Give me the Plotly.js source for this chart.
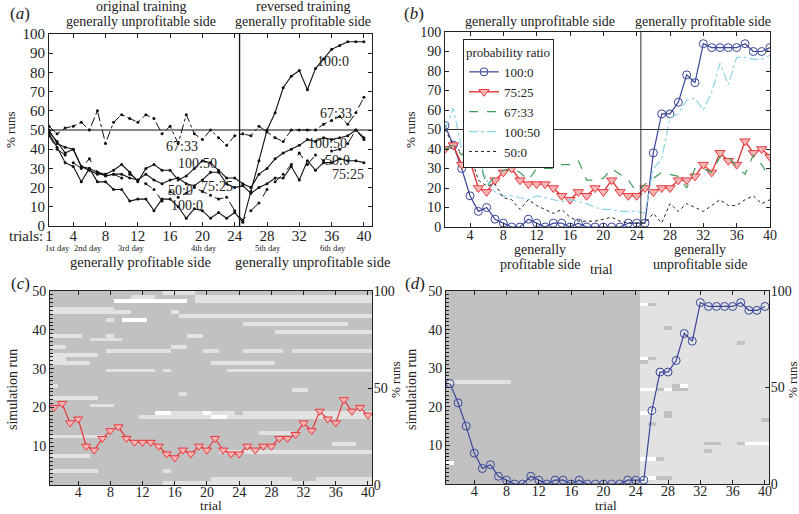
<!DOCTYPE html>
<html><head><meta charset="utf-8">
<script src="https://cdn.plot.ly/plotly-3.0.1.min.js"></script>
<style>html,body{margin:0;padding:0;background:#fff}#chart{width:799px;height:514px}</style>
</head><body><div id="chart"></div>
<script>
// ---------- DATA ----------
const trials = [1,2,3,4,5,6,7,8,9,10,11,12,13,14,15,16,17,18,19,20,21,22,23,24,25,26,27,28,29,30,31,32,33,34,35,36,37,38,39,40];
const ratioNames = ["100:0","75:25","67:33","100:50","50:0"];

// panel (a): original experiment (% runs on generally unprofitable side)
const a100_0  = [48,41,33,31,23,30,23,23,19,19,13,14,14,8,14,14,10,4,9,8,4,7,4,7,2,18,34,50,59,72,78,81,71,82,87,92,94,96,96,96];
const a67_33  = [52,48,51,52,54,50,60,43,54,58,56,54,58,56,48,52,43,58,48,45,50,46,42,47,48,47,52,49,46,44,50,50,50,50,53,55,57,53,59,67];
const a100_50 = [50,43,41,40,31,29,27,27,29,32,28,23,30,32,29,29,24,26,30,34,33,29,25,25,22,20,27,30,35,38,40,42,45,44,46,45,46,47,50,46];
const a75_25  = [49,44,38,40,31,30,28,26,27,27,25,24,27,24,22,24,25,22,21,24,28,28,22,20,21,17,20,22,25,25,31,24,34,29,33,33,35,34,34,33];
const a50_0   = [47,40,37,33,30,35,28,27,27,25,27,24,22,19,13,18,15,17,20,18,16,14,15,8,3,8,12,19,23,27,32,38,32,37,34,39,40,43,50,45];

// panel (b): simulation (% runs)
const b100_0  = [52,42,30,16,8,10,4,2,0,0,4,2,0,2,2,0,2,0,0,0,0,0,2,2,2,38,58,58,64,78,74,94,92,92,92,92,94,90,90,92];
const b75_25  = [40,42,32,34,20,18,24,28,30,24,22,22,22,20,16,14,18,16,20,18,24,18,16,16,20,18,20,20,24,24,26,32,28,38,34,32,44,38,40,36];
const b67_33  = [40,42,37,38,36,21,26,29,30,28,24,30,30,30,32,32,34,24,24,25,30,27,24,18,22,25,28,27,26,20,30,30,28,36,36,31,27,37,32,25];
const b100_50 = [50,61,40,38,36,24,18,16,16,15,14,16,15,14,13,14,13,12,10,9,9,8,8,8,7,30,35,56,58,65,66,60,69,84,73,87,87,86,86,88];
const b50_0   = [50,42,38,38,24,21,22,15,14,9,14,11,9,7,9,5,3,3,3,4,5,3,2,2,2,7,2,12,8,12,10,8,11,14,11,11,14,16,12,14];

// panels (c),(d): per-run choice maps, segments [run, firstTrial, lastTrial, state]
// state 0 = dark grey, 1 = light grey, 2 = white
const runsCBase = 0;
const runsCSeg = [
 [50,15,18,1],[49,11,13,1],[49,19,40,1],[48,9,17,2],[48,19,40,1],[46,1,8,1],[45,1,10,1],[45,16,16,1],
 [44,17,40,1],[43,8,8,1],[43,10,12,2],[42,25,37,1],[40,29,40,1],[39,1,4,1],[39,8,8,1],[39,18,19,1],
 [38,6,9,1],[36,1,2,1],[36,16,17,1],[35,8,15,1],[35,20,21,1],[35,25,29,1],[35,31,40,1],[34,1,6,1],
 [33,1,2,1],[32,1,5,1],[32,21,28,1],[30,8,13,1],[30,15,15,1],[30,23,40,1],[26,1,1,1],[25,31,32,1],
 [24,17,17,1],[23,1,6,1],[21,6,8,1],[19,14,15,2],[19,16,19,1],[19,20,20,2],[19,21,23,1],[19,25,40,1],
 [18,12,20,1],[18,21,22,2],[18,23,40,1],[14,27,30,1],[13,1,7,1],[11,36,38,1],[9,22,40,1],[8,1,5,1],
 [4,1,6,1],[4,15,15,1],[2,21,30,1],[2,34,40,1],[1,15,40,1]
];
const runsDSeg = [
 [1,25,40,1],[2,25,40,1],[3,25,40,1],[4,25,40,1],[5,25,40,1],[6,25,40,1],[7,25,40,1],[8,25,40,1],[9,25,40,1],[10,25,40,1],
 [11,25,40,1],[12,25,40,1],[13,25,40,1],[14,25,40,1],[15,25,40,1],[16,25,40,1],[17,25,40,1],[18,25,40,1],[19,25,40,1],[20,25,40,1],
 [21,25,40,1],[22,25,40,1],[23,25,40,1],[24,25,40,1],[25,25,40,1],[26,25,40,1],[27,25,40,1],[28,25,40,1],[29,25,40,1],[30,25,40,1],
 [31,25,40,1],[32,25,40,1],[33,25,40,1],[34,25,40,1],[35,25,40,1],[36,25,40,1],[37,25,40,1],[38,25,40,1],[39,25,40,1],[40,25,40,1],
 [41,25,40,1],[42,25,40,1],[43,25,40,1],[44,25,40,1],[45,25,40,1],[46,25,40,1],[47,25,40,1],[48,25,40,1],[49,25,40,1],[50,25,40,1],
 [47,25,25,2],[47,26,26,0],[41,28,28,0],[37,37,37,0],[33,25,25,2],[33,26,26,0],[32,25,25,0],[27,1,8,1],
 [26,29,29,0],[26,30,30,2],[25,25,26,2],[25,27,27,0],[25,28,28,2],[25,29,30,0],
 [19,25,26,2],[19,28,28,0],[18,28,28,0],[17,40,40,0],[16,26,26,0],
 [11,33,34,0],[11,37,37,0],[11,38,40,2],[9,33,33,0],[7,25,26,2],[7,27,27,0],[6,1,1,2],[2,25,26,2],[2,27,28,0]
];
const runIds = Array.from({length:50},(_,i)=>i+0.5);

// ---------- BUILD ----------
function buildMap(segs){
  const z = [];
  for(let r=0;r<50;r++){ z.push(new Array(40).fill(runsCBase)); }
  segs.forEach(([run,t0,t1,v])=>{ for(let t=t0;t<=t1;t++) z[run-1][t-1]=v; });
  return z;
}
const serif = "Liberation Serif";
const ink = "#222";
const f = s=>({family:serif,size:s,color:ink});
const aStyle = {mode:"lines+markers", line:{color:"#111",width:1.1}, marker:{size:3,color:"#111"}, showlegend:false, xaxis:"x", yaxis:"y", hoverinfo:"skip"};

const traces = [
  Object.assign({x:trials,y:a100_0}, aStyle),
  Object.assign({x:trials,y:a67_33}, aStyle, {line:{color:"#111",width:1,dash:"dashdot"}}),
  Object.assign({x:trials,y:a100_50}, aStyle),
  Object.assign({x:trials,y:a75_25}, aStyle),
  Object.assign({x:trials,y:a50_0}, aStyle, {line:{color:"#111",width:1,dash:"dash"}}),

  {x:trials,y:b100_0,name:ratioNames[0],xaxis:"x2",yaxis:"y2",mode:"lines+markers",
   line:{color:"#3a4799",width:1.2},marker:{symbol:"circle-open",size:8,color:"#3a4799",line:{width:1}}},
  {x:trials,y:b75_25,name:ratioNames[1],xaxis:"x2",yaxis:"y2",mode:"lines+markers",
   line:{color:"#e8383d",width:1.4},marker:{symbol:"triangle-down",size:9,color:"#f6b6b6",line:{color:"#e8383d",width:1}}},
  {x:trials,y:b67_33,name:ratioNames[2],xaxis:"x2",yaxis:"y2",mode:"lines",
   line:{color:"#3f9a5c",width:1.2,dash:"dash"}},
  {x:trials,y:b100_50,name:ratioNames[3],xaxis:"x2",yaxis:"y2",mode:"lines",
   line:{color:"#8fd6e3",width:1.2,dash:"dashdot"}},
  {x:trials,y:b50_0,name:ratioNames[4],xaxis:"x2",yaxis:"y2",mode:"lines",
   line:{color:"#222",width:1,dash:"dot"}},

  {type:"heatmap",x:trials,y:runIds,z:buildMap(runsCSeg),xaxis:"x3",yaxis:"y3",zmin:0,zmax:2,showscale:false,
   colorscale:[[0,"#c1c1c1"],[0.5,"#e2e2e2"],[1,"#ffffff"]],hoverinfo:"skip"},
  {x:trials,y:b75_25,xaxis:"x3",yaxis:"y5",mode:"lines+markers",showlegend:false,
   line:{color:"#e8383d",width:1.2},marker:{symbol:"triangle-down",size:8,color:"#f6b6b6",line:{color:"#e8383d",width:1}}},

  {type:"heatmap",x:trials,y:runIds,z:buildMap(runsDSeg),xaxis:"x4",yaxis:"y4",zmin:0,zmax:2,showscale:false,
   colorscale:[[0,"#c1c1c1"],[0.5,"#e2e2e2"],[1,"#ffffff"]],hoverinfo:"skip"},
  {x:trials,y:b100_0,xaxis:"x4",yaxis:"y6",mode:"lines+markers",showlegend:false,
   line:{color:"#3a4799",width:1.2},marker:{symbol:"circle-open",size:8,color:"#3a4799",line:{width:1}}}
];

const W=799,H=514;
const px = v=>v/W, py = v=>1-v/H;
function ax(o){
  return Object.assign({showgrid:false,zeroline:false,linecolor:ink,linewidth:1,mirror:"ticks",
    ticks:"inside",ticklen:4,tickcolor:ink,tickfont:f(14)},o);
}
const ticks4 = [4,8,12,16,20,24,28,32,36,40];

const layout = {
  width:W,height:H,margin:{l:0,r:0,t:0,b:0},paper_bgcolor:"#fff",plot_bgcolor:"#fff",
  font:{family:serif,color:ink},
  showlegend:true,
  legend:{x:px(463),y:py(39),xanchor:"left",yanchor:"top",bgcolor:"#fff",bordercolor:ink,borderwidth:1,
    font:f(13),title:{text:"probability ratio",font:f(13)},tracegroupgap:0,itemwidth:30},
  xaxis: ax({domain:[px(49),px(372)],range:[1,41],tickvals:[1].concat(ticks4),anchor:"y",tickfont:f(15),ticklabelstandoff:-4}),
  yaxis: ax({domain:[py(226),py(34)],range:[0,100],dtick:10,anchor:"x",tickfont:f(15)}),
  xaxis2: ax({domain:[px(445),px(770)],range:[1,40],tickvals:ticks4,anchor:"y2",ticklabelstandoff:-5}),
  yaxis2: ax({domain:[py(227),py(32)],range:[0,100],dtick:10,anchor:"x2"}),
  xaxis3: ax({domain:[px(50),px(372)],range:[0.5,40.5],tickvals:ticks4,anchor:"y3",ticklabelstandoff:-6}),
  yaxis3: ax({domain:[py(485),py(291)],range:[0,50],tickvals:[10,20,30,40,50],anchor:"x3",mirror:false,
    minor:{dtick:1,ticklen:3,ticks:"inside",tickcolor:ink}}),
  yaxis5: ax({domain:[py(485),py(291)],range:[0,100],tickvals:[0,50,100],overlaying:"y3",side:"right",anchor:"x3",mirror:false,ticklabelstandoff:-2}),
  xaxis4: ax({domain:[px(446),px(769)],range:[0.5,40.5],tickvals:ticks4,anchor:"y4",ticklabelstandoff:-6}),
  yaxis4: ax({domain:[py(484),py(291)],range:[0,50],tickvals:[10,20,30,40,50],anchor:"x4",mirror:false,
    minor:{dtick:1,ticklen:3,ticks:"inside",tickcolor:ink}}),
  yaxis6: ax({domain:[py(484),py(291)],range:[0,100],tickvals:[0,50,100],overlaying:"y4",side:"right",anchor:"x4",mirror:false,ticklabelstandoff:-2}),
  shapes:[
    {type:"line",xref:"x domain",x0:0,x1:1,yref:"y",y0:50,y1:50,line:{color:"#111",width:1.2}},
    {type:"line",xref:"x",x0:24.6,x1:24.6,yref:"y domain",y0:0,y1:1,line:{color:"#111",width:1.3}},
    {type:"line",xref:"x2 domain",x0:0,x1:1,yref:"y2",y0:50,y1:50,line:{color:"#333",width:1}},
    {type:"line",xref:"x2",x0:24.5,x1:24.5,yref:"y2 domain",y0:0,y1:1,line:{color:"#333",width:1}}
  ],
  annotations:[]
};

function A(text,x,y,o){
  layout.annotations.push(Object.assign({text:text,xref:"paper",yref:"paper",x:px(x),y:py(y),
    showarrow:false,xanchor:"center",yanchor:"middle",font:f(14)},o||{}));
}
// panel letters
A("(<i>a</i>)",20,13,{font:f(17)});
A("(<i>b</i>)",414,13,{font:f(17)});
A("(<i>c</i>)",20,283,{font:f(17)});
A("(<i>d</i>)",415,283,{font:f(17)});
// panel (a) texts
A("original training",141,7);
A("generally unprofitable side",141,22);
A("reversed training",303,7);
A("generally profitable side",303,22);
A("trials:",45,236,{xanchor:"right",font:f(15)});
A("1st day",57,248,{font:f(8.5)});
A("2nd day",88,248,{font:f(8.5)});
A("3rd day",131,248,{font:f(8.5)});
A("4th day",204,248,{font:f(8.5)});
A("5th day",268,248,{font:f(8.5)});
A("6th day",333,248,{font:f(8.5)});
A("generally profitable side",140,262,{font:f(14.5)});
A("generally unprofitable side",312,262,{font:f(14.5)});
A("% runs",10,130,{textangle:-90,font:f(13)});
A("100:0",333,61);
A("67:33",336,113);
A("67:33",182,146);
A("100:50",197,163);
A("75:25",217,186);
A("50:0",180,190);
A("100:0",187,205);
A("100:50",327,143);
A("50:0",337,160);
A("75:25",348,174);
// panel (b) texts
A("generally unprofitable side",540,22);
A("generally profitable side",703,22);
A("% runs",410,130,{textangle:-90,font:f(13)});
A("generally",540,249);
A("profitable side",540,264);
A("trial",601,269);
A("generally",700,249);
A("unprofitable side",700,264);
// panel (c),(d) texts
A("simulation run",12,390,{textangle:-90});
A("% runs",395,380,{textangle:-90,font:f(13)});
A("trial",211,515,{yanchor:"bottom",font:f(13.5)});
A("simulation run",411,390,{textangle:-90});
A("% runs",792,380,{textangle:-90,font:f(13)});
A("trial",606,515,{yanchor:"bottom",font:f(13.5)});

Plotly.newPlot("chart",traces,layout,{staticPlot:true,displayModeBar:false});
</script>
</body></html>
